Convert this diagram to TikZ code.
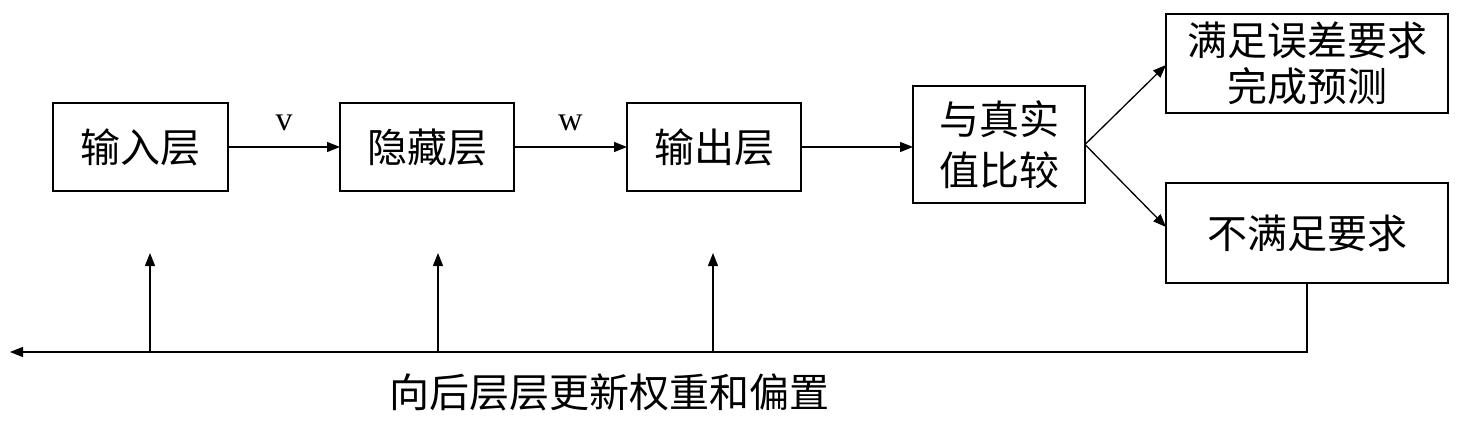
\documentclass[tikz,border=0pt]{standalone}
\usepackage{fontspec}
\newfontfamily\cjk{Noto Sans CJK SC}
\newfontfamily\lat{Liberation Serif}
\usetikzlibrary{arrows.meta}
\begin{document}
\begin{tikzpicture}[x=1pt,y=-1pt,
  box/.style={draw,line width=2.6pt,inner sep=0pt,outer sep=0pt,font=\cjk\fontsize{40}{46}\selectfont,align=center},
  conn/.style={line width=1.3pt,-{Triangle[length=13pt,width=10pt]}},
  lbl/.style={font=\lat\fontsize{34}{38}\selectfont,inner sep=0pt}]
\useasboundingbox (0,0) rectangle (1458,433);
\node[box,minimum width=175pt,minimum height=88pt] (in) at (140.5,147) {输入层};
\node[box,minimum width=174pt,minimum height=88pt] (hid) at (427,147) {隐藏层};
\node[box,minimum width=174pt,minimum height=88pt] (out) at (714,147) {输出层};
\node[box,minimum width=172pt,minimum height=117pt,font=\cjk\fontsize{40}{51}\selectfont] (cmp) at (999,144.5) {与真实\\值比较};
\node[box,minimum width=282pt,minimum height=99pt] (ok) at (1307,63.5) {满足误差要求\\完成预测};
\node[box,minimum width=282pt,minimum height=100pt] (no) at (1307,233) {不满足要求};
\draw[conn] (in.east) -- (hid.west) node[lbl,midway,above=16pt] (v) {v};
\draw[conn] (hid.east) -- (out.west) node[lbl,midway,above=16pt] (w) {w};
\draw[conn] (out.east) -- (cmp.west |- out.east);
\coordinate (br) at (cmp.east);
\coordinate (okin) at (1166,65);
\coordinate (noin) at (1166,227);
\draw[conn] (br) -- (okin);
\draw[conn] (br) -- (noin);
\coordinate (corner) at (no.south |- 0,352);
\coordinate (endl) at (10,352);
\coordinate (f1) at (150,352);
\coordinate (f2) at (438,352);
\coordinate (f3) at (713,352);
\coordinate (t1) at (150,253);
\coordinate (t2) at (438,253);
\coordinate (t3) at (713,253);
\draw[conn] (no.south) -- (corner) -- (endl);
\draw[conn] (f1) -- (t1);
\draw[conn] (f2) -- (t2);
\draw[conn] (f3) -- (t3);
\node[font=\cjk\fontsize{40}{46}\selectfont,inner sep=0pt] (lab) at (609,392) {向后层层更新权重和偏置};
\end{tikzpicture}
\end{document}
